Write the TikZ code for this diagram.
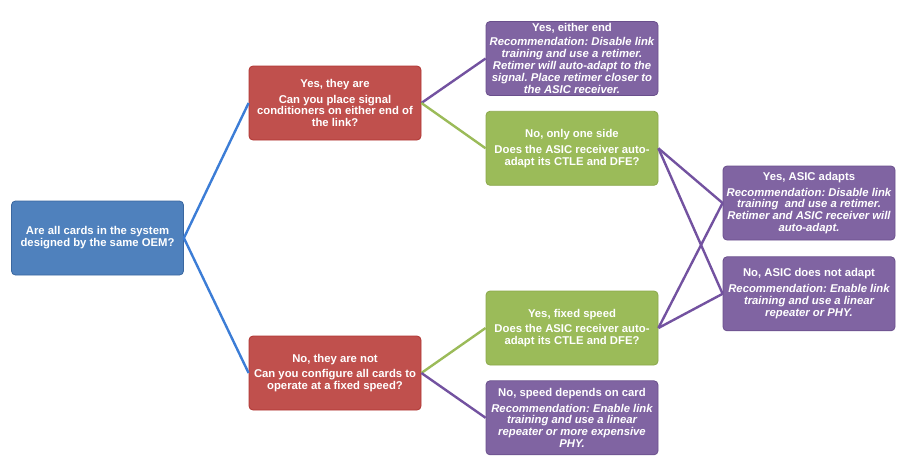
\documentclass[tikz,border=0pt]{standalone}
\usepackage{fontspec}
\setmainfont{Liberation Sans}
\usepackage{tikz}
\usetikzlibrary{positioning}
\usepackage{xcolor}
\frenchspacing

\definecolor{oemblue}{HTML}{4F81BD}
\definecolor{oemline}{HTML}{3A67A0}
\definecolor{askred}{HTML}{C0504D}
\definecolor{askline}{HTML}{B03532}
\definecolor{checkgreen}{HTML}{9BBB59}
\definecolor{checkline}{HTML}{8AA84A}
\definecolor{advpurple}{HTML}{8064A2}
\definecolor{advline}{HTML}{6A4F8C}
\definecolor{linkblue}{HTML}{3C7DD6}
\definecolor{linkgreen}{HTML}{9BBB59}
\definecolor{linkpurple}{HTML}{7352A0}

\begin{document}
\begin{tikzpicture}[x=1pt, y=-1pt]
    \tikzstyle{box} = [draw, rounded corners=4pt, line width=0.8pt, text=white, text centered, align=center, minimum width=172pt, minimum height=74pt, inner sep=1pt, font=\bfseries\fontsize{11.3}{11.9}\selectfont]
    \tikzstyle{root} = [box, fill=oemblue, draw=oemline]
    \tikzstyle{question} = [box, fill=askred, draw=askline]
    \tikzstyle{check} = [box, fill=checkgreen, draw=checkline]
    \tikzstyle{advice} = [box, fill=advpurple, draw=advline]
    \tikzstyle{link} = [line width=2.4pt]
    \useasboundingbox (0,0) rectangle (898,459);
    \node [root] at (97.5,238) (oem) {Are all cards in the system\\designed by the same OEM?};
    \node [question] at (335,103) (same) {Yes, they are\\[4pt]Can you place signal\\conditioners on either end of\\the link?};
    \node [question] at (335,373) (notsame) {No, they are not\\[4pt]Can you configure all cards to\\operate at a fixed speed?};
    \node [advice] at (572,58.5) (either) {Yes, either end\\[2pt]\itshape Recommendation: Disable link\\\itshape training and use a retimer.\\\itshape Retimer will auto-adapt to the\\\itshape signal. Place retimer closer to\\\itshape the ASIC receiver.};
    \node [check, below=15pt of either] (oneside) {No, only one side\\[4pt]Does the ASIC receiver auto-\\adapt its CTLE and DFE?};
    \node [check] at (572,328) (fixed) {Yes, fixed speed\\[4pt]Does the ASIC receiver auto-\\adapt its CTLE and DFE?};
    \node [advice, below=15pt of fixed] (depends) {No, speed depends on card\\[4pt]\itshape Recommendation: Enable link\\\itshape training and use a linear\\\itshape repeater or more expensive\\\itshape PHY.};
    \node [advice] at (809,203) (adapts) {Yes, ASIC adapts\\[4pt]\itshape Recommendation: Disable link\\\itshape training\ \ and use a retimer.\\\itshape Retimer and ASIC receiver will\\\itshape auto-adapt.};
    \node [advice, below=16pt of adapts] (noadapt) {No, ASIC does not adapt\\[4pt]\itshape Recommendation: Enable link\\\itshape training and use a linear\\\itshape repeater or PHY.};
    \draw[link, linkblue] (oem.east) -- (same.west);
    \draw[link, linkblue] (oem.east) -- (notsame.west);
    \draw[link, linkpurple] (same.east) -- (either.west);
    \draw[link, linkgreen] (same.east) -- (oneside.west);
    \draw[link, linkgreen] (notsame.east) -- (fixed.west);
    \draw[link, linkpurple] (notsame.east) -- (depends.west);
    \draw[link, linkpurple] (oneside.east) -- (adapts.west);
    \draw[link, linkpurple] (oneside.east) -- (noadapt.west);
    \draw[link, linkpurple] (fixed.east) -- (adapts.west);
    \draw[link, linkpurple] (fixed.east) -- (noadapt.west);
\end{tikzpicture}
\end{document}
